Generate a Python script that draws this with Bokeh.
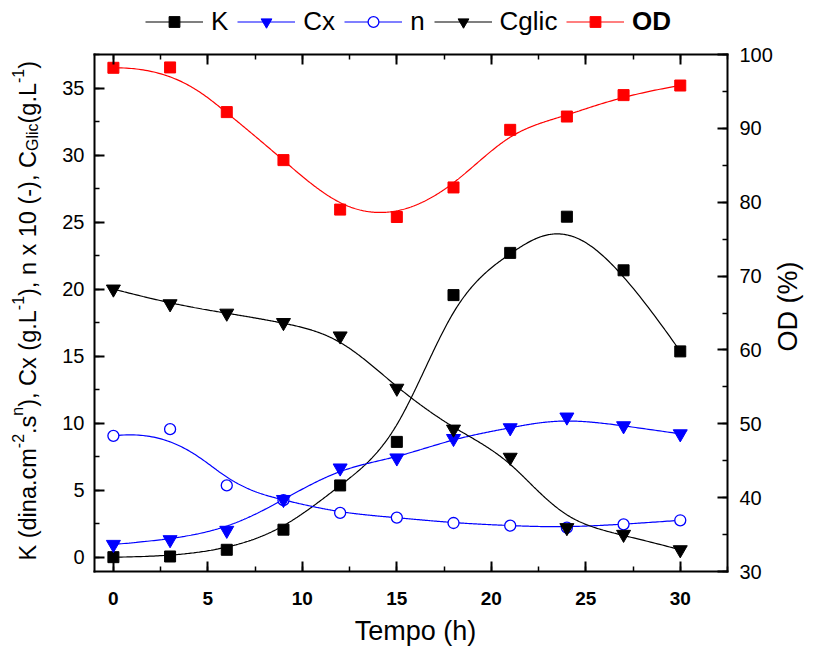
import numpy as np
from bokeh.plotting import figure
from bokeh.models import Range1d, LinearAxis, FixedTicker, Legend, LegendItem, Label
from bokeh.embed import file_html
from bokeh.resources import INLINE

# Measured series vs. time (h)
tempo = [0, 3, 6, 9, 12, 15, 18, 21, 24, 27, 30]
k_vals = [0.0, 0.05, 0.55, 2.05, 5.35, 8.6, 19.55, 22.7, 25.4, 21.4, 15.35]
cx_vals = [0.95, 1.3, 2.0, 4.3, 6.65, 7.4, 8.85, 9.65, 10.45, 9.8, 9.2]
n_vals = [9.05, 9.55, 5.35, 4.25, 3.3, 2.95, 2.55, 2.35, 2.2, 2.45, 2.75]
cglic_vals = [20.0, 18.9, 18.2, 17.5, 16.5, 12.6, 9.55, 7.45, 2.2, 1.7, 0.55]
od_vals = [98.2, 98.25, 92.2, 85.7, 79.0, 78.0, 82.0, 89.8, 91.6, 94.5, 95.8]

x_ticks = [0, 5, 10, 15, 20, 25, 30]
x_minor = [2.5 * i for i in range(0, 14)]
y_ticks = [0, 5, 10, 15, 20, 25, 30, 35]
y_minor = [2.5 * i for i in range(0, 16)]
od_ticks = [30, 40, 50, 60, 70, 80, 90, 100]
od_minor = [30 + 5 * i for i in range(0, 15)]

# Axis limits of the boxed plotting area
X0, X1 = -1.0, 32.5
Y0, Y1 = -1.07, 37.5
OD0, OD1 = 30.0, 100.0

FONT = "Liberation Sans"
W, H = 815, 646
# pixel box of the axes inside the canvas
BOX_L, BOX_R, BOX_T, BOX_B = 94, 727, 54, 571


def span(lo, hi, p_lo, p_hi, size):
    """Extend a data interval drawn between pixels p_lo..p_hi to a full canvas side."""
    per = (hi - lo) / (p_hi - p_lo)
    return lo - p_lo * per, hi + (size - p_hi) * per


def bspline(xs, ys, samples=500, k=3):
    """Clamped uniform cubic B-spline using the points as control points."""
    pts = np.column_stack([np.asarray(xs, float), np.asarray(ys, float)])
    n = len(pts)
    knots = np.array([0] * k + list(range(n - k + 1)) + [n - k] * k, float)
    out = []
    for u in np.linspace(0, n - k, samples):
        s = int(np.searchsorted(knots, u, side="right") - 1)
        s = min(max(s, k), n - 1)
        d = [pts[j + s - k].copy() for j in range(k + 1)]
        for r in range(1, k + 1):
            for j in range(k, r - 1, -1):
                den = knots[j + 1 + s - r] - knots[j + s - k]
                a = 0.0 if den == 0 else (u - knots[j + s - k]) / den
                d[j] = (1 - a) * d[j - 1] + a * d[j]
        out.append(d[k])
    out = np.array(out)
    return out[:, 0], out[:, 1]


xs, xe = span(X0, X1, BOX_L, BOX_R, W)
ys, ye = span(Y0, Y1, H - BOX_B, H - BOX_T, H)
os_, oe = span(OD0, OD1, H - BOX_B, H - BOX_T, H)

p = figure(width=W, height=H, output_backend="svg", toolbar_location=None,
           x_range=Range1d(xs, xe), y_range=Range1d(ys, ye),
           min_border=0, x_axis_location=None, y_axis_location=None)
p.extra_y_ranges = {"od": Range1d(os_, oe)}
p.outline_line_color = None
p.xgrid.visible = False
p.ygrid.visible = False
p.background_fill_color = "white"
p.border_fill_color = "white"


def style_axis(ax, major, minor, labels=True, bold=False, size="20px", standoff=10):
    ax.ticker = FixedTicker(ticks=major, minor_ticks=minor)
    ax.axis_line_width = 2
    ax.axis_line_color = "black"
    ax.axis_line_cap = "square"
    ax.major_tick_in = 10
    ax.major_tick_out = 0
    ax.minor_tick_in = 5
    ax.minor_tick_out = 0
    ax.major_tick_line_width = 2
    ax.minor_tick_line_width = 1.5
    ax.major_label_standoff = standoff
    ax.major_label_text_font = FONT
    ax.major_label_text_font_size = size
    ax.major_label_text_color = "black"
    if not labels:
        ax.major_label_overrides = {t: "" for t in major}
    if bold:
        ax.major_label_text_font_style = "bold"
    ax.axis_label = None


bottom = LinearAxis(fixed_location=Y0, bounds=(X0, X1))
style_axis(bottom, x_ticks, x_minor, bold=True, size="19px", standoff=20)
p.add_layout(bottom, "below")
top = LinearAxis(fixed_location=Y1, bounds=(X0, X1))
style_axis(top, x_ticks, x_minor, labels=False)
p.add_layout(top, "above")
left = LinearAxis(fixed_location=X0, bounds=(Y0, Y1))
style_axis(left, y_ticks, y_minor, size="20px", standoff=10)
p.add_layout(left, "left")
right = LinearAxis(y_range_name="od", fixed_location=X1, bounds=(OD0, OD1))
style_axis(right, od_ticks, od_minor, size="20px", standoff=12)
p.add_layout(right, "right")

# Smoothed connecting curves
kx, ky = bspline(tempo, k_vals)
cxx, cxy = bspline(tempo, cx_vals)
nx, ny = bspline(tempo, n_vals)
gx, gy = bspline(tempo, cglic_vals)
ox, oy = bspline(tempo, od_vals)

l_k = p.line(kx, ky, line_color="black", line_width=1.2)
l_cx = p.line(cxx, cxy, line_color="#0000FF", line_width=1.2)
l_n = p.line(nx, ny, line_color="#0000FF", line_width=1.2)
l_g = p.line(gx, gy, line_color="black", line_width=1.2)
l_od = p.line(ox, oy, line_color="#FF0000", line_width=1.2, y_range_name="od")

m_n = p.scatter(tempo, n_vals, marker="circle", size=11, fill_color="white",
                line_color="#0000FF", line_width=1.3)
m_k = p.scatter(tempo, k_vals, marker="square", size=11, fill_color="black",
                line_color="black")
m_cx = p.scatter(tempo, cx_vals, marker="inverted_triangle", size=14,
                 fill_color="#0000FF", line_color="#0000FF")
m_g = p.scatter(tempo, cglic_vals, marker="inverted_triangle", size=14,
                fill_color="black", line_color="black")
m_od = p.scatter(tempo, od_vals, marker="square", size=11, fill_color="#FF0000",
                 line_color="#FF0000", y_range_name="od")

legend_opts = dict(orientation="horizontal", glyph_width=58, glyph_height=27,
                   label_standoff=8, spacing=9, padding=0, margin=0,
                   label_text_font=FONT, label_text_font_size="26px",
                   label_text_color="black",
                   label_width=0, label_height=0,
                   border_line_color=None, background_fill_alpha=0)
leg1 = Legend(items=[LegendItem(label="K", renderers=[l_k, m_k]),
                     LegendItem(label="Cx", renderers=[l_cx, m_cx]),
                     LegendItem(label="n", renderers=[l_n, m_n]),
                     LegendItem(label="Cglic", renderers=[l_g, m_g])],
              location=(145, 609), **legend_opts)
leg2 = Legend(items=[LegendItem(label="OD", renderers=[l_od, m_od])],
              location=(566, 609), label_text_font_style="bold", **legend_opts)
p.add_layout(leg1)
p.add_layout(leg2)

# Axis titles
p.add_layout(Label(x=415, y=H - 630, x_units="screen", y_units="screen",
                   text="Tempo (h)", text_font=FONT, text_font_size="27px",
                   text_color="black",
                   text_align="center", text_baseline="alphabetic"))
p.add_layout(Label(x=787, y=H - 306, x_units="screen", y_units="screen",
                   text="OD (%)", text_font=FONT, text_font_size="27px",
                   text_color="black", angle=np.pi / 2,
                   text_align="center", text_baseline="alphabetic"))

# Left title assembled from runs with super/subscripts
ADV = {' ': 278, '(': 333, ')': 333, ',': 278, '.': 278, '-': 333, '0': 556,
       '1': 556, '2': 556, 'K': 667, 'C': 722, 'G': 778, 'L': 556, 'a': 556,
       'c': 500, 'd': 556, 'g': 556, 'i': 222, 'l': 222, 'm': 833, 'n': 556,
       's': 500, 'x': 500}
base = 23.5
script = base * 0.68
runs = [("K (dina.cm", "n"), ("-2", "sup"), (".s", "n"), ("n", "sup"),
        ("), Cx (g.L", "n"), ("-1", "sup"), ("), n x 10 (-), C", "n"),
        ("Glic", "sub"), ("(g.L", "n"), ("-1", "sup"), (")", "n")]
baseline_x = 27
pos = H - 560.0
for txt, kind in runs:
    size = base if kind == "n" else script
    shift = {"n": 0, "sup": -0.42 * base, "sub": 0.22 * base}[kind]
    p.add_layout(Label(x=baseline_x + shift, y=pos, x_units="screen", y_units="screen",
                       text=txt, text_font=FONT, text_font_size=f"{size:.1f}px",
                       text_color="black", angle=np.pi / 2,
                       text_align="left", text_baseline="alphabetic"))
    pos += sum(ADV[c] for c in txt) / 1000.0 * size

open("out.html", "w").write(file_html(p, INLINE))
